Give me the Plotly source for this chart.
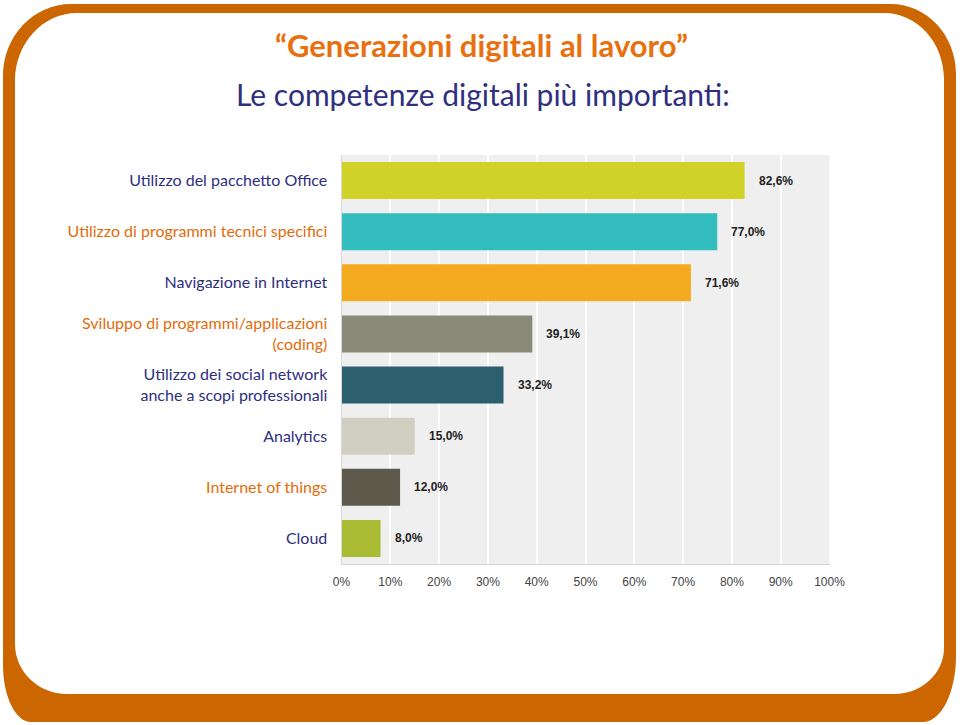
import plotly.graph_objects as go

W, H = 960, 725

categories = [
    "Utilizzo del pacchetto Office",
    "Utilizzo di programmi tecnici specifici",
    "Navigazione in Internet",
    "Sviluppo di programmi/applicazioni<br>(coding)",
    "Utilizzo dei social network<br>anche a scopi professionali",
    "Analytics",
    "Internet of things",
    "Cloud",
]
values = [82.6, 77.0, 71.6, 39.1, 33.2, 15.0, 12.0, 8.0]
value_labels = ["82,6%", "77,0%", "71,6%", "39,1%", "33,2%", "15,0%", "12,0%", "8,0%"]
bar_colors = ["#D0D22A", "#33BDBF", "#F5AB20", "#8A8A78", "#2D5F6E", "#D0CFC2", "#5E5A4B", "#AABB34"]
label_colors = ["#2E2F7E", "#E36C0A", "#2E2F7E", "#E36C0A", "#2E2F7E", "#2E2F7E", "#E36C0A", "#2E2F7E"]
x_ticks = [0, 10, 20, 30, 40, 50, 60, 70, 80, 90, 100]
x_tick_labels = ["0%", "10%", "20%", "30%", "40%", "50%", "60%", "70%", "80%", "90%", "100%"]
title_main = "\u201cGenerazioni digitali al lavoro\u201d"
title_sub = "Le competenze digitali più importanti:"

NAVY = "#2E2F7E"
ORANGE = "#E8700F"
FRAME = "#CC6600"


def px(x):
    return x / W


def py(y):
    return 1 - y / H


def rounded_path(x0, y0, x1, y1, rtl, rtr, rbr, rbl):
    k = 0.5523

    def P(x, y):
        return f"{px(x):.5f},{py(y):.5f}"
    (a, b), (c, d), (e, f), (g, h) = rtl, rtr, rbr, rbl
    s = f"M{P(x0 + a, y0)} L{P(x1 - c, y0)} "
    s += f"C{P(x1 - c + c * k, y0)} {P(x1, y0 + d - d * k)} {P(x1, y0 + d)} "
    s += f"L{P(x1, y1 - f)} "
    s += f"C{P(x1, y1 - f + f * k)} {P(x1 - e + e * k, y1)} {P(x1 - e, y1)} "
    s += f"L{P(x0 + g, y1)} "
    s += f"C{P(x0 + g - g * k, y1)} {P(x0, y1 - h + h * k)} {P(x0, y1 - h)} "
    s += f"L{P(x0, y0 + b)} "
    s += f"C{P(x0, y0 + b - b * k)} {P(x0 + a - a * k, y0)} {P(x0 + a, y0)} Z"
    return s


outer = rounded_path(3, 4, 956, 722, (68, 72), (65, 70), (33, 66), (28, 57))
inner = rounded_path(15, 13, 944, 694, (62, 68), (60, 66), (50, 46), (52, 50))

ticktext = [f'<span style="color:{c}">{t}</span>' for t, c in zip(categories, label_colors)]

fig = go.Figure()
fig.add_trace(go.Bar(
    x=values,
    y=categories,
    orientation="h",
    marker=dict(color=bar_colors, line=dict(width=0)),
    width=0.725,
    hoverinfo="skip",
))

for v, lab, cat in zip(values, value_labels, categories):
    fig.add_annotation(
        x=v, y=cat, xref="x", yref="y", text=f"<b>{lab}</b>", showarrow=False,
        xanchor="left", yanchor="middle", xshift=12,
        font=dict(family="Arial, Liberation Sans", size=12, color="#1E1E1E"),
    )

fig.add_annotation(
    x=px(481), y=py(45), xref="paper", yref="paper", text=f"<b>{title_main}</b>",
    showarrow=False, xanchor="center", yanchor="middle",
    font=dict(family="Lato", size=31, color=ORANGE),
)
fig.add_annotation(
    x=px(483), y=py(94), xref="paper", yref="paper", text=title_sub,
    showarrow=False, xanchor="center", yanchor="middle",
    font=dict(family="Lato", size=30, color=NAVY),
)

fig.add_shape(
    type="path", path=outer + " " + inner, xref="paper", yref="paper",
    fillcolor=FRAME, line=dict(width=0), layer="above", fillrule="evenodd",
)

fig.update_layout(
    width=W, height=H,
    margin=dict(l=0, r=0, t=0, b=0),
    paper_bgcolor="white",
    plot_bgcolor="#EFEFEF",
    showlegend=False,
    bargap=0.275,
    xaxis=dict(
        domain=[px(341.5), px(829.5)],
        range=[0, 100],
        tickvals=x_ticks,
        ticktext=x_tick_labels,
        showgrid=True, gridcolor="white", gridwidth=1.5,
        zeroline=False,
        showline=True, linecolor="#D2D2D2", linewidth=1,
        ticks="outside", ticklen=7, tickcolor="rgba(0,0,0,0)",
        tickfont=dict(family="Arial, Liberation Sans", size=12, color="#444444"),
        automargin=False, fixedrange=True,
    ),
    yaxis=dict(
        domain=[py(564), py(155)],
        autorange="reversed",
        tickvals=categories,
        ticktext=ticktext,
        showgrid=False, zeroline=False,
        showline=True, linecolor="#D8D8D8", linewidth=1,
        ticks="outside", ticklen=10, tickcolor="rgba(0,0,0,0)",
        tickfont=dict(family="Lato", size=16, color=NAVY),
        automargin=False, fixedrange=True,
    ),
)

fig.write_html(
    "out.html",
    config={"displayModeBar": False},
    post_script="document.body.style.margin='0';document.body.style.overflow='hidden';",
)
